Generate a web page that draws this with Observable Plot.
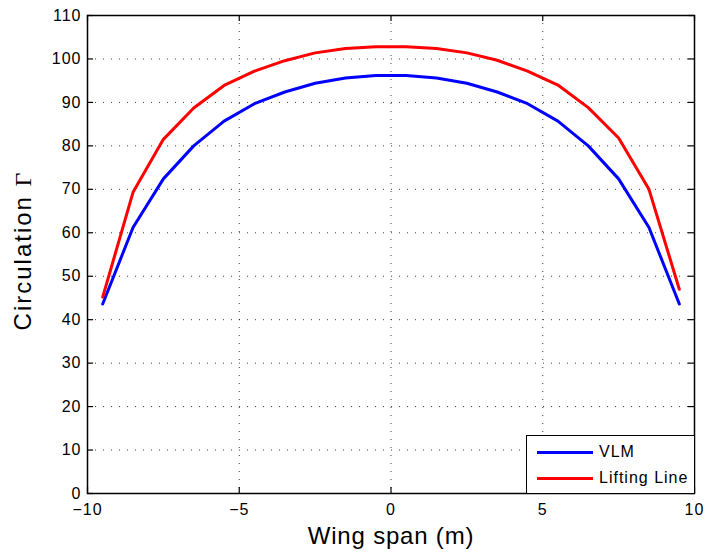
<!DOCTYPE html>
<html>
<head>
<meta charset="utf-8">
<script src="https://cdn.jsdelivr.net/npm/d3@7"></script>
<script src="https://cdn.jsdelivr.net/npm/@observablehq/plot@0.6"></script>
<style>
  html, body { margin: 0; padding: 0; background: #fff; }
  #wrap { position: relative; width: 707px; height: 556px; font-family: "Liberation Sans", Arial, Helvetica, sans-serif; }
  #legend { position: absolute; left: 526px; top: 435px; width: 167px; height: 57px; border: 1.5px solid #000; background: #fff; box-sizing: content-box; }
  .lg-row { position: absolute; left: 0; height: 20px; display: flex; align-items: center; font-size: 16px; letter-spacing: 1px; color: #000; white-space: nowrap; }
  .lg-line { display: inline-block; width: 56px; height: 3px; margin-left: 10px; margin-right: 6px; }
  #chart svg g[aria-label="x-axis tick label"] text,
  #chart svg g[aria-label="y-axis tick label"] text { letter-spacing: 1px; }
</style>
</head>
<body>
<div id="wrap">
  <div id="chart"></div>
  <div id="legend">
    <div class="lg-row" style="top:6px"><span class="lg-line" style="background:#0000ff"></span><span id="lg0"></span></div>
    <div class="lg-row" style="top:32px"><span class="lg-line" style="background:#ff0000"></span><span id="lg1"></span></div>
  </div>
</div>
<script>
const span = [-9.5, -8.5, -7.5, -6.5, -5.5, -4.5, -3.5, -2.5, -1.5, -0.5, 0.5, 1.5, 2.5, 3.5, 4.5, 5.5, 6.5, 7.5, 8.5, 9.5];
const vlm = [43.6, 61.2, 72.4, 80.0, 85.7, 89.7, 92.4, 94.4, 95.6, 96.2, 96.2, 95.6, 94.4, 92.4, 89.7, 85.7, 80.0, 72.4, 61.2, 43.6];
const liftingLine = [45.2, 69.3, 81.5, 88.7, 93.9, 97.2, 99.6, 101.4, 102.4, 102.8, 102.8, 102.4, 101.4, 99.7, 97.2, 94.0, 88.8, 81.8, 70.0, 47.0];
const seriesNames = ["VLM", "Lifting Line"];
const seriesColors = ["#0000ff", "#ff0000"];
const xTicks = [-10, -5, 0, 5, 10];
const yTicks = [0, 10, 20, 30, 40, 50, 60, 70, 80, 90, 100, 110];
const xLabel = "Wing span (m)";
const yLabelMain = "Circulation ";
const yLabelSymbol = "Γ";

const vlmData = span.map((x, i) => ({x, y: vlm[i], s: seriesNames[0]}));
const llData = span.map((x, i) => ({x, y: liftingLine[i], s: seriesNames[1]}));

const gridStyle = {stroke: "#000", strokeOpacity: 0.75, strokeDasharray: "1,7", strokeWidth: 1};
const tickStyle = {stroke: "#000", strokeWidth: 1.2};

const chart = Plot.plot({
  width: 707,
  height: 556,
  marginLeft: 87,
  marginRight: 13,
  marginTop: 15,
  marginBottom: 63,
  style: {fontFamily: '"Liberation Sans", Arial, Helvetica, sans-serif', fontSize: "16px", color: "#000", background: "#fff"},
  x: {domain: [-10, 10], ticks: xTicks},
  y: {domain: [0, 110], ticks: yTicks},
  marks: [
    Plot.gridX(xTicks.slice(1, -1), gridStyle),
    Plot.gridY(yTicks.slice(1, -1), gridStyle),
    Plot.line(vlmData, {x: "x", y: "y", stroke: seriesColors[0], strokeWidth: 3}),
    Plot.line(llData, {x: "x", y: "y", stroke: seriesColors[1], strokeWidth: 3}),
    Plot.ruleX(xTicks, {x: d => d, y1: 0, y2: 1.4, ...tickStyle}),
    Plot.ruleX(xTicks, {x: d => d, y1: 110, y2: 108.6, ...tickStyle}),
    Plot.ruleY(yTicks, {y: d => d, x1: -10, x2: -9.8, ...tickStyle}),
    Plot.ruleY(yTicks, {y: d => d, x1: 10, x2: 9.8, ...tickStyle}),
    Plot.frame({stroke: "#000", strokeWidth: 1.5}),
    Plot.axisX(xTicks, {anchor: "bottom", tickSize: 0, tickPadding: 10, label: null, fontSize: 16}),
    Plot.axisY(yTicks, {anchor: "left", tickSize: 0, tickPadding: 6, label: null, fontSize: 16}),
    Plot.text([xLabel], {frameAnchor: "bottom", dy: 50, lineAnchor: "bottom", fontSize: 24, fill: "#000"}),
    Plot.text([yLabelMain + yLabelSymbol], {frameAnchor: "left", textAnchor: "middle", dx: -64, dy: -4, rotate: -90, fontSize: 24, fill: "#000"})
  ]
});
document.getElementById("chart").appendChild(chart);
document.getElementById("lg0").textContent = seriesNames[0];
document.getElementById("lg1").textContent = seriesNames[1];

// typographic adjustments of the axis titles
d3.select(chart).selectAll("text").each(function() {
  const t = this.textContent;
  if (t === xLabel) {
    this.style.letterSpacing = "0.8px";
  } else if (t === yLabelMain + yLabelSymbol) {
    this.style.letterSpacing = "2px";
    const sel = d3.select(this);
    sel.text(null);
    sel.append("tspan").text(yLabelMain);
    sel.append("tspan").style("font-family", '"Liberation Serif", "Times New Roman", serif').text(yLabelSymbol);
  }
});
</script>
</body>
</html>
